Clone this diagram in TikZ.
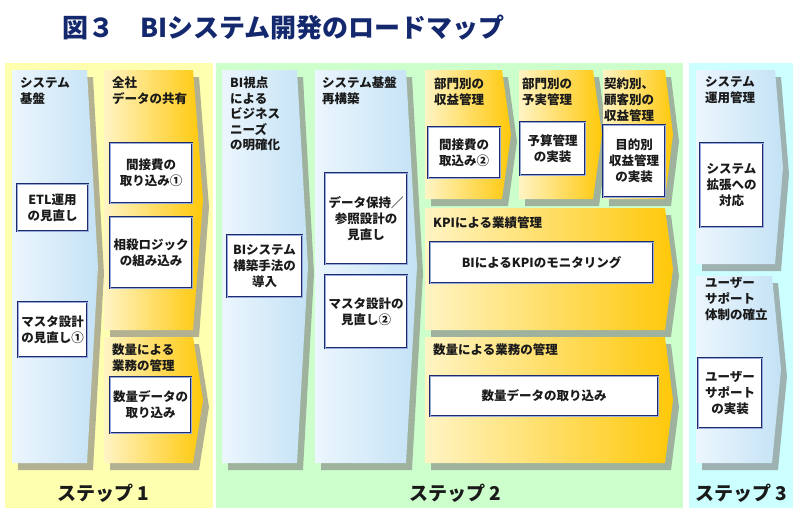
\documentclass[tikz,border=0pt]{standalone}
\usepackage{fontspec}
\setmainfont{Noto Sans CJK JP}
\definecolor{txt}{RGB}{26,26,26}
\definecolor{ttl}{RGB}{20,40,110}
\definecolor{boxline}{RGB}{30,42,110}
\definecolor{boxin}{RGB}{150,170,220}
\definecolor{bl1}{RGB}{236,246,253}
\definecolor{bl2}{RGB}{196,226,245}
\definecolor{or1}{RGB}{255,244,196}
\definecolor{or2}{RGB}{255,200,10}
\definecolor{pan1}{RGB}{255,255,176}
\definecolor{pan2}{RGB}{204,255,204}
\definecolor{pan3}{RGB}{204,255,255}
% chevron column: L, T, R, B, tip dx, fill style
\newcommand\chev[6]{%
  \fill[shad] (#1+6,#2+7) -- (#3+6,#2+7) -- (#3+#5+6,{(#2+#4)/2+7}) -- (#3+6,#4+7) -- (#1+6,#4+7) -- cycle;
  \path[#6] (#1,#2) -- (#3,#2) -- (#3+#5,{(#2+#4)/2}) -- (#3,#4) -- (#1,#4) -- cycle;
}
\begin{document}
\begin{tikzpicture}[x=1pt,y=-1pt,
  hdr/.style={anchor=north west,inner sep=0pt,align=left,text=txt,font=\bfseries\fontsize{12.5}{16}\selectfont},
  boxn/.style={draw=boxline,double=boxin,line width=0.9pt,double distance=0.8pt,fill=white,align=center,inner sep=0pt,text=txt,font=\bfseries\fontsize{12.5}{16}\selectfont},
  steplbl/.style={text=txt,font=\bfseries\fontsize{19}{22}\selectfont,inner sep=0pt},
  bluecol/.style={left color=bl1,right color=bl2},
  orcol/.style={left color=or1,right color=or2},
  shad/.style={fill=gray,fill opacity=0.6},
  ttlstyle/.style={text=ttl,font=\bfseries\fontsize{26}{30}\selectfont,inner sep=0pt,anchor=west}
]
\useasboundingbox[fill=white] (0,0) rectangle (800,522);
% title
\node[ttlstyle] (t1) at (62,28) {図３};
\node[ttlstyle] (t2) at (140,28) {BIシステム開発のロードマップ};
% panels
\fill[pan1] (5,63) rectangle (213,508);
\fill[pan2] (216,63) rectangle (683,508);
\fill[pan3] (689,63) rectangle (793,508);
% columns
\chev{12}{70}{87}{463}{11}{bluecol}
\chev{104}{70}{193}{330}{10}{orcol}
\chev{104}{337}{193}{463}{10}{orcol}
\chev{222}{70}{297}{463}{11}{bluecol}
\chev{315}{70}{406}{463}{11}{bluecol}
\chev{425}{70}{502}{199}{9}{orcol}
\chev{519}{70}{593}{199}{9}{orcol}
\chev{603}{70}{665}{199}{8}{orcol}
\chev{425}{208}{665}{330}{8}{orcol}
\chev{425}{337}{665}{463}{8}{orcol}
\chev{696}{70}{775}{264}{8}{bluecol}
\chev{696}{276}{772}{463}{9}{bluecol}
% headers
\node[hdr] (hA) at (20,77) {システム\\基盤};
\node[hdr] (hB) at (112,77) {全社\\データの共有};
\node[hdr] (hB2) at (112,344) {数量による\\業務の管理};
\node[hdr,font=\bfseries\fontsize{12.5}{15.5}\selectfont] (hC) at (230,77) {BI視点\\による\\ビジネス\\ニーズ\\の明確化};
\node[hdr] (hD) at (322,77) {システム基盤\\再構築};
\node[hdr] (hE) at (434,78) {部門別の\\収益管理};
\node[hdr] (hF) at (522,78) {部門別の\\予実管理};
\node[hdr] (hG) at (604,78) {契約別、\\顧客別の\\収益管理};
\node[hdr] (hH) at (433,216) {KPIによる業績管理};
\node[hdr] (hI) at (433,343) {数量による業務の管理};
\node[hdr] (hJ) at (705,76) {システム\\運用管理};
\node[hdr] (hK) at (705,277) {ユーザー\\サポート\\体制の確立};
% boxes
\node[boxn,minimum width=71pt,minimum height=47pt] (b1) at (52.5,207.5) {ETL運用\\の見直し};
\node[boxn,minimum width=69pt,minimum height=55pt] (b2) at (52.5,329.5) {マスタ設計\\の見直し①};
\node[boxn,minimum width=82pt,minimum height=60pt] (b3) at (151,173) {間接費の\\取り込み①};
\node[boxn,minimum width=82pt,minimum height=71pt] (b4) at (151,252.5) {相殺ロジック\\の組み込み};
\node[boxn,minimum width=81pt,minimum height=56pt] (b5) at (150.5,405) {数量データの\\取り込み};
\node[boxn,minimum width=75pt,minimum height=62pt] (b6) at (264.5,266) {BIシステム\\構築手法の\\導入};
\node[boxn,minimum width=82pt,minimum height=91pt] (b7) at (366,218.5) {データ保持／\\参照設計の\\見直し};
\node[boxn,minimum width=82pt,minimum height=73pt] (b8) at (366,311.5) {マスタ設計の\\見直し②};
\node[boxn,minimum width=72pt,minimum height=51pt] (b9) at (464,152.5) {間接費の\\取込み②};
\node[boxn,minimum width=65pt,minimum height=53pt] (b10) at (552.5,148.5) {予算管理\\の実装};
\node[boxn,minimum width=62pt,minimum height=72pt] (b11) at (634,161) {目的別\\収益管理\\の実装};
\node[boxn,minimum width=223pt,minimum height=41pt] (b12) at (541.5,262.5) {BIによるKPIのモニタリング};
\node[boxn,minimum width=228pt,minimum height=40pt] (b13) at (544,396) {数量データの取り込み};
\node[boxn,minimum width=63pt,minimum height=84pt] (b14) at (731.5,185) {システム\\拡張への\\対応};
\node[boxn,minimum width=64pt,minimum height=70pt] (b15) at (730,393) {ユーザー\\サポート\\の実装};
% step labels
\node[steplbl] (s1) at (103,493) {ステップ 1};
\node[steplbl] (s2) at (455,493) {ステップ 2};
\node[steplbl] (s3) at (741,493) {ステップ 3};
\end{tikzpicture}
\end{document}
